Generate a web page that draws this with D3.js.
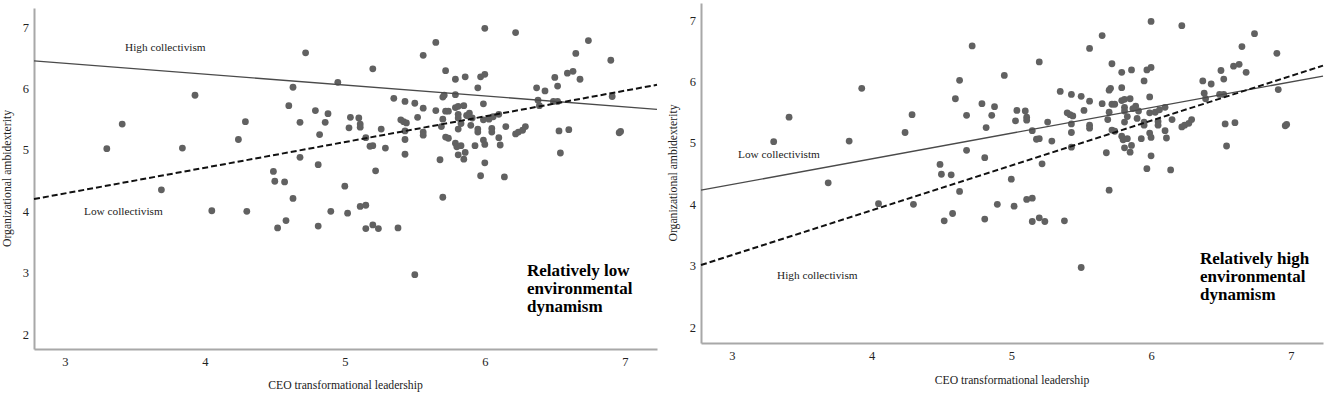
<!DOCTYPE html>
<html>
<head>
<meta charset="utf-8">
<script src="https://cdn.jsdelivr.net/npm/d3@7"></script>
<style>
  body { margin: 0; background: #fff; }
  svg { display: block; font-family: "Liberation Serif", "Times New Roman", serif; }
</style>
</head>
<body>
<svg id="chart" width="1325" height="393"></svg>
<script>
// Shared scatter data (CEO transformational leadership, organizational ambidexterity)
const ceoTL = [
  3.93,3.41,3.30,3.84,3.69,4.05,
  4.72,5.20,4.95,4.63,4.60,4.29,4.79,4.88,4.68,4.86,5.04,5.10,5.03,5.11,5.11,5.26,4.24,4.82,5.15,5.18,5.20,
  4.68,4.81,5.22,4.49,4.50,4.57,5.00,4.63,4.30,4.90,5.02,5.11,5.15,4.58,4.52,4.81,5.15,5.20,5.24,
  6.00,5.65,5.56,5.72,5.79,5.86,5.97,6.00,5.95,5.71,5.70,5.79,5.35,5.43,5.50,5.56,5.65,5.72,5.74,5.79,5.81,5.85,5.99,
  5.52,5.40,5.42,5.44,5.70,5.81,5.81,5.89,5.87,5.91,5.99,6.03,6.06,6.10,5.83,5.90,5.69,5.81,5.95,5.95,6.05,6.05,
  5.43,5.56,5.56,5.72,5.74,6.10,5.43,5.99,6.00,5.79,5.80,5.83,5.93,6.11,5.29,5.86,5.81,5.85,5.43,5.68,6.00,5.97,6.14,5.70,5.38,5.50,
  6.22,6.74,6.65,6.90,6.50,6.52,6.59,6.63,6.68,6.37,6.43,6.38,6.39,6.49,6.52,6.91,6.15,6.22,6.24,6.27,6.29,6.53,6.60,6.96,6.97,6.54
];
const ambidexterity = [
  5.89,5.42,5.02,5.03,4.35,4.01,
  6.58,6.32,6.10,6.02,5.72,5.46,5.64,5.59,5.45,5.45,5.53,5.52,5.36,5.42,5.37,5.34,5.17,5.25,5.20,5.06,5.07,
  4.88,4.76,4.66,4.65,4.49,4.48,4.41,4.21,4.00,4.00,3.97,4.08,4.10,3.85,3.73,3.76,3.72,3.78,3.72,
  6.98,6.75,6.54,6.29,6.15,6.19,6.19,6.23,6.01,5.89,5.86,5.90,5.84,5.79,5.76,5.68,5.64,5.63,5.63,5.69,5.71,5.72,5.75,
  5.53,5.49,5.46,5.44,5.50,5.58,5.52,5.60,5.56,5.52,5.49,5.50,5.54,5.58,5.43,5.40,5.38,5.34,5.34,5.29,5.35,5.29,
  5.31,5.29,5.24,5.21,5.19,5.20,5.17,5.16,5.09,5.11,5.05,5.07,5.07,5.08,5.03,4.96,4.92,4.85,4.93,4.84,4.79,4.58,4.56,4.23,3.73,2.97,
  6.91,6.78,6.57,6.46,6.18,6.04,6.25,6.28,6.15,6.01,5.96,5.81,5.72,5.79,5.79,5.87,5.38,5.26,5.29,5.32,5.38,5.31,5.33,5.28,5.30,4.95
];
const xTicks = [3, 4, 5, 6, 7];
const yTicks = [2, 3, 4, 5, 6, 7];
const xDomain = [2.78, 7.23];

// Panel 1: relatively low environmental dynamism
const lowDynHighColl = { label: "High collectivism", x: [2.78, 7.23], y: [6.45, 5.66] };
const lowDynLowColl  = { label: "Low collectivism",  x: [2.78, 7.23], y: [4.20, 6.06] };
// Panel 2: relatively high environmental dynamism
const highDynLowColl  = { label: "Low collectivistm", x: [2.78, 7.23], y: [4.23, 6.09] };
const highDynHighColl = { label: "High collectivism", x: [2.78, 7.23], y: [3.01, 6.26] };

const xTitle = "CEO transformational leadership";
const yTitle = "Organizational ambidexterity";

const points = ceoTL.map((v, i) => ({ x: v, y: ambidexterity[i] }));
const svg = d3.select("#chart");

const panels = [
  {
    x0: 34, x1: 657, yTop: 8, yBot: 349, yDomain: [1.76, 7.31],
    solid: lowDynHighColl, dashed: lowDynLowColl,
    solidLabelPos: [125, 51], dashedLabelPos: [84, 215],
    boxLines: ["Relatively low", "environmental", "dynamism"], boxPos: [527, 276],
    yTitleX: 11, xTitleY: 389
  },
  {
    x0: 701, x1: 1323, yTop: 3, yBot: 343, yDomain: [1.74, 7.28],
    solid: highDynLowColl, dashed: highDynHighColl,
    solidLabelPos: [738, 158], dashedLabelPos: [777, 279],
    boxLines: ["Relatively high", "environmental", "dynamism"], boxPos: [1200, 264],
    yTitleX: 677, xTitleY: 384
  }
];

panels.forEach(p => {
  const x = d3.scaleLinear().domain(xDomain).range([p.x0, p.x1]);
  const y = d3.scaleLinear().domain(p.yDomain).range([p.yBot, p.yTop]);
  const g = svg.append("g");

  const xAxis = g.append("g").attr("transform", `translate(0,${p.yBot})`)
    .call(d3.axisBottom(x).tickValues(xTicks).tickSize(0).tickSizeOuter(0).tickPadding(8).tickFormat(d3.format("d")));
  const yAxis = g.append("g").attr("transform", `translate(${p.x0},0)`)
    .call(d3.axisLeft(y).tickValues(yTicks).tickSize(0).tickSizeOuter(0).tickPadding(5).tickFormat(d3.format("d")));
  [xAxis, yAxis].forEach(a => {
    a.select(".domain").attr("stroke", "#a8a8a8").attr("stroke-width", 2);
    a.selectAll("text").attr("font-family", "Liberation Serif").attr("font-size", 12.5).attr("fill", "#222");
  });

  // axis titles
  g.append("text").attr("x", (p.x0 + p.x1) / 2).attr("y", p.xTitleY)
    .attr("text-anchor", "middle").attr("font-size", 11.7).attr("fill", "#222").text(xTitle);
  g.append("text").attr("transform", `translate(${p.yTitleX},${(p.yTop + p.yBot) / 2}) rotate(-90)`)
    .attr("text-anchor", "middle").attr("font-size", 11.7).attr("fill", "#222").text(yTitle);

  // points
  g.append("g").selectAll("circle").data(points).join("circle")
    .attr("cx", d => x(d.x)).attr("cy", d => y(d.y)).attr("r", 3.4).attr("fill", "#616161");

  const line = d3.line().x(d => x(d[0])).y(d => y(d[1]));
  g.append("path").datum(p.solid.x.map((v, i) => [v, p.solid.y[i]]))
    .attr("d", line).attr("fill", "none").attr("stroke", "#4a4a4a").attr("stroke-width", 1.3);
  g.append("path").datum(p.dashed.x.map((v, i) => [v, p.dashed.y[i]]))
    .attr("d", line).attr("fill", "none").attr("stroke", "#111").attr("stroke-width", 2)
    .attr("stroke-dasharray", "6,3");

  g.append("text").attr("x", p.solidLabelPos[0]).attr("y", p.solidLabelPos[1])
    .attr("font-size", 11.3).attr("fill", "#222").text(p.solid.label);
  g.append("text").attr("x", p.dashedLabelPos[0]).attr("y", p.dashedLabelPos[1])
    .attr("font-size", 11.3).attr("fill", "#222").text(p.dashed.label);

  const box = g.append("text").attr("x", p.boxPos[0]).attr("y", p.boxPos[1])
    .attr("font-size", 17).attr("font-weight", "bold").attr("fill", "#000");
  p.boxLines.forEach((t, i) => {
    box.append("tspan").attr("x", p.boxPos[0]).attr("dy", i === 0 ? 0 : 18).text(t);
  });
});
</script>
</body>
</html>
